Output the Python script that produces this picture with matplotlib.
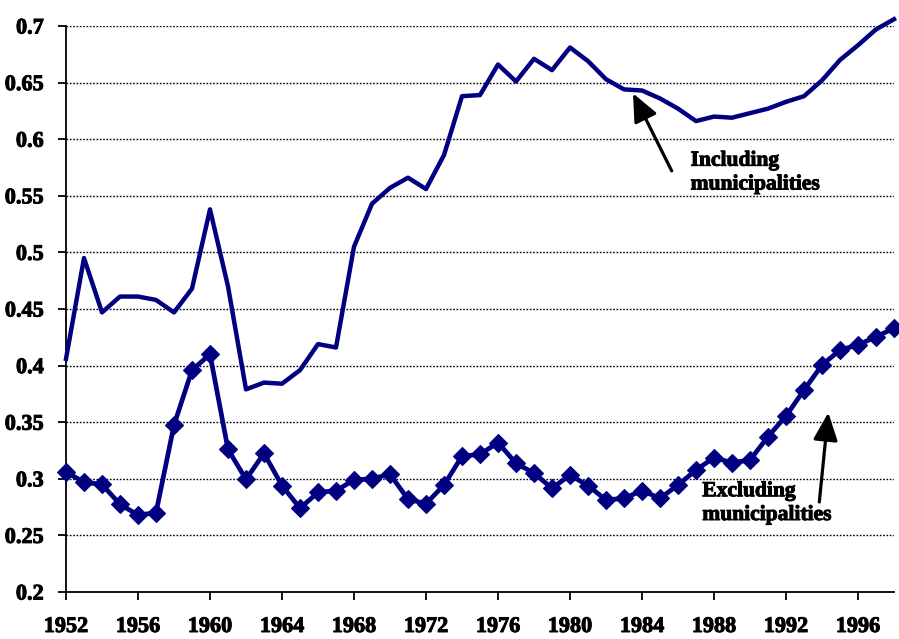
import matplotlib
matplotlib.use("Agg")
import matplotlib.pyplot as plt
import matplotlib.patheffects as pe
import numpy as np

years = list(range(1952, 1999))
including = [0.406, 0.495, 0.447, 0.461, 0.461, 0.458, 0.447, 0.468, 0.538, 0.470,
             0.379, 0.385, 0.384, 0.396, 0.419, 0.416, 0.505, 0.543, 0.557, 0.566,
             0.556, 0.586, 0.638, 0.639, 0.666, 0.651, 0.671, 0.661, 0.681, 0.669,
             0.653, 0.644, 0.643, 0.636, 0.627, 0.616, 0.620, 0.619, 0.623, 0.627,
             0.633, 0.638, 0.652, 0.670, 0.683, 0.697, 0.706]
excluding = [0.306, 0.297, 0.295, 0.2775, 0.268, 0.270, 0.3475, 0.396, 0.410, 0.326,
             0.2995, 0.3225, 0.294, 0.274, 0.288, 0.2895, 0.299, 0.300, 0.304, 0.282,
             0.278, 0.2945, 0.320, 0.3216, 0.332, 0.3137, 0.305, 0.2916, 0.3033, 0.294,
             0.2813, 0.2828, 0.2895, 0.2828, 0.2945, 0.3078, 0.3187, 0.3142, 0.3166, 0.3372,
             0.3555, 0.3784, 0.4005, 0.4138, 0.4182, 0.4255, 0.433]
xticks = list(range(1952, 1999, 4))
yticks = [0.2, 0.25, 0.3, 0.35, 0.4, 0.45, 0.5, 0.55, 0.6, 0.65, 0.7]
ytick_labels = ["0.2", "0.25", "0.3", "0.35", "0.4", "0.45", "0.5", "0.55", "0.6", "0.65", "0.7"]

plt.rcParams['font.family'] = ['Liberation Serif', 'DejaVu Serif']
plt.rcParams['font.weight'] = 'bold'

fig = plt.figure(figsize=(8.99, 6.39), dpi=100)
ax = fig.add_axes([66/899, 1-592/639, (894-66)/899, (592-26)/639])
navy = '#000080'

ax.plot(years, including, color=navy, lw=3.2, solid_joinstyle='round', zorder=3, clip_on=False)
ax.plot(years, excluding, color=navy, lw=3.4, marker='D', ms=9.5, mfc=navy, mec=navy, mew=0.8,
        zorder=3, clip_on=False)

ax.set_xlim(1952, 1998)
ax.set_ylim(0.2, 0.7)
ax.set_xticks(xticks)
ax.set_xticklabels([str(x) for x in xticks])
ax.set_yticks(yticks)
ax.set_yticklabels(ytick_labels)
for y in yticks[1:]:
    ax.axhline(y, color='black', lw=1.0, ls=(0, (1.2, 1.2)), zorder=1)

for s in ['top', 'right']:
    ax.spines[s].set_visible(False)
for s in ['left', 'bottom']:
    ax.spines[s].set_linewidth(1.3)
    ax.spines[s].set_color('black')
ax.tick_params(axis='both', direction='out', length=6, width=1.3, labelsize=16)
ax.tick_params(axis='x', pad=12)
ax.tick_params(axis='y', pad=10)
bold_fx = [pe.withStroke(linewidth=0.7, foreground='black')]
for lab in ax.get_xticklabels() + ax.get_yticklabels():
    lab.set_fontweight('bold')
    lab.set_path_effects(bold_fx)

astyle = '-|>,head_length=1.7,head_width=0.75'
ax.annotate("", xy=(1983.5, 0.6405), xytext=(1985.65, 0.572),
            arrowprops=dict(arrowstyle=astyle, color='black', lw=2.3, shrinkA=0, shrinkB=0))
ax.text(1986.7, 0.5705, "Including\nmunicipalities", fontsize=15.5, fontweight='bold',
        ha='left', va='center', linespacing=1.25, path_effects=bold_fx)

ax.annotate("", xy=(1994.35, 0.3585), xytext=(1993.85, 0.2795),
            arrowprops=dict(arrowstyle=astyle, color='black', lw=2.3, shrinkA=0, shrinkB=0))
ax.text(1987.35, 0.2785, "Excluding\nmunicipalities", fontsize=15.5, fontweight='bold',
        ha='left', va='center', linespacing=1.25, path_effects=bold_fx)

fig.savefig("out.png", dpi=100)
